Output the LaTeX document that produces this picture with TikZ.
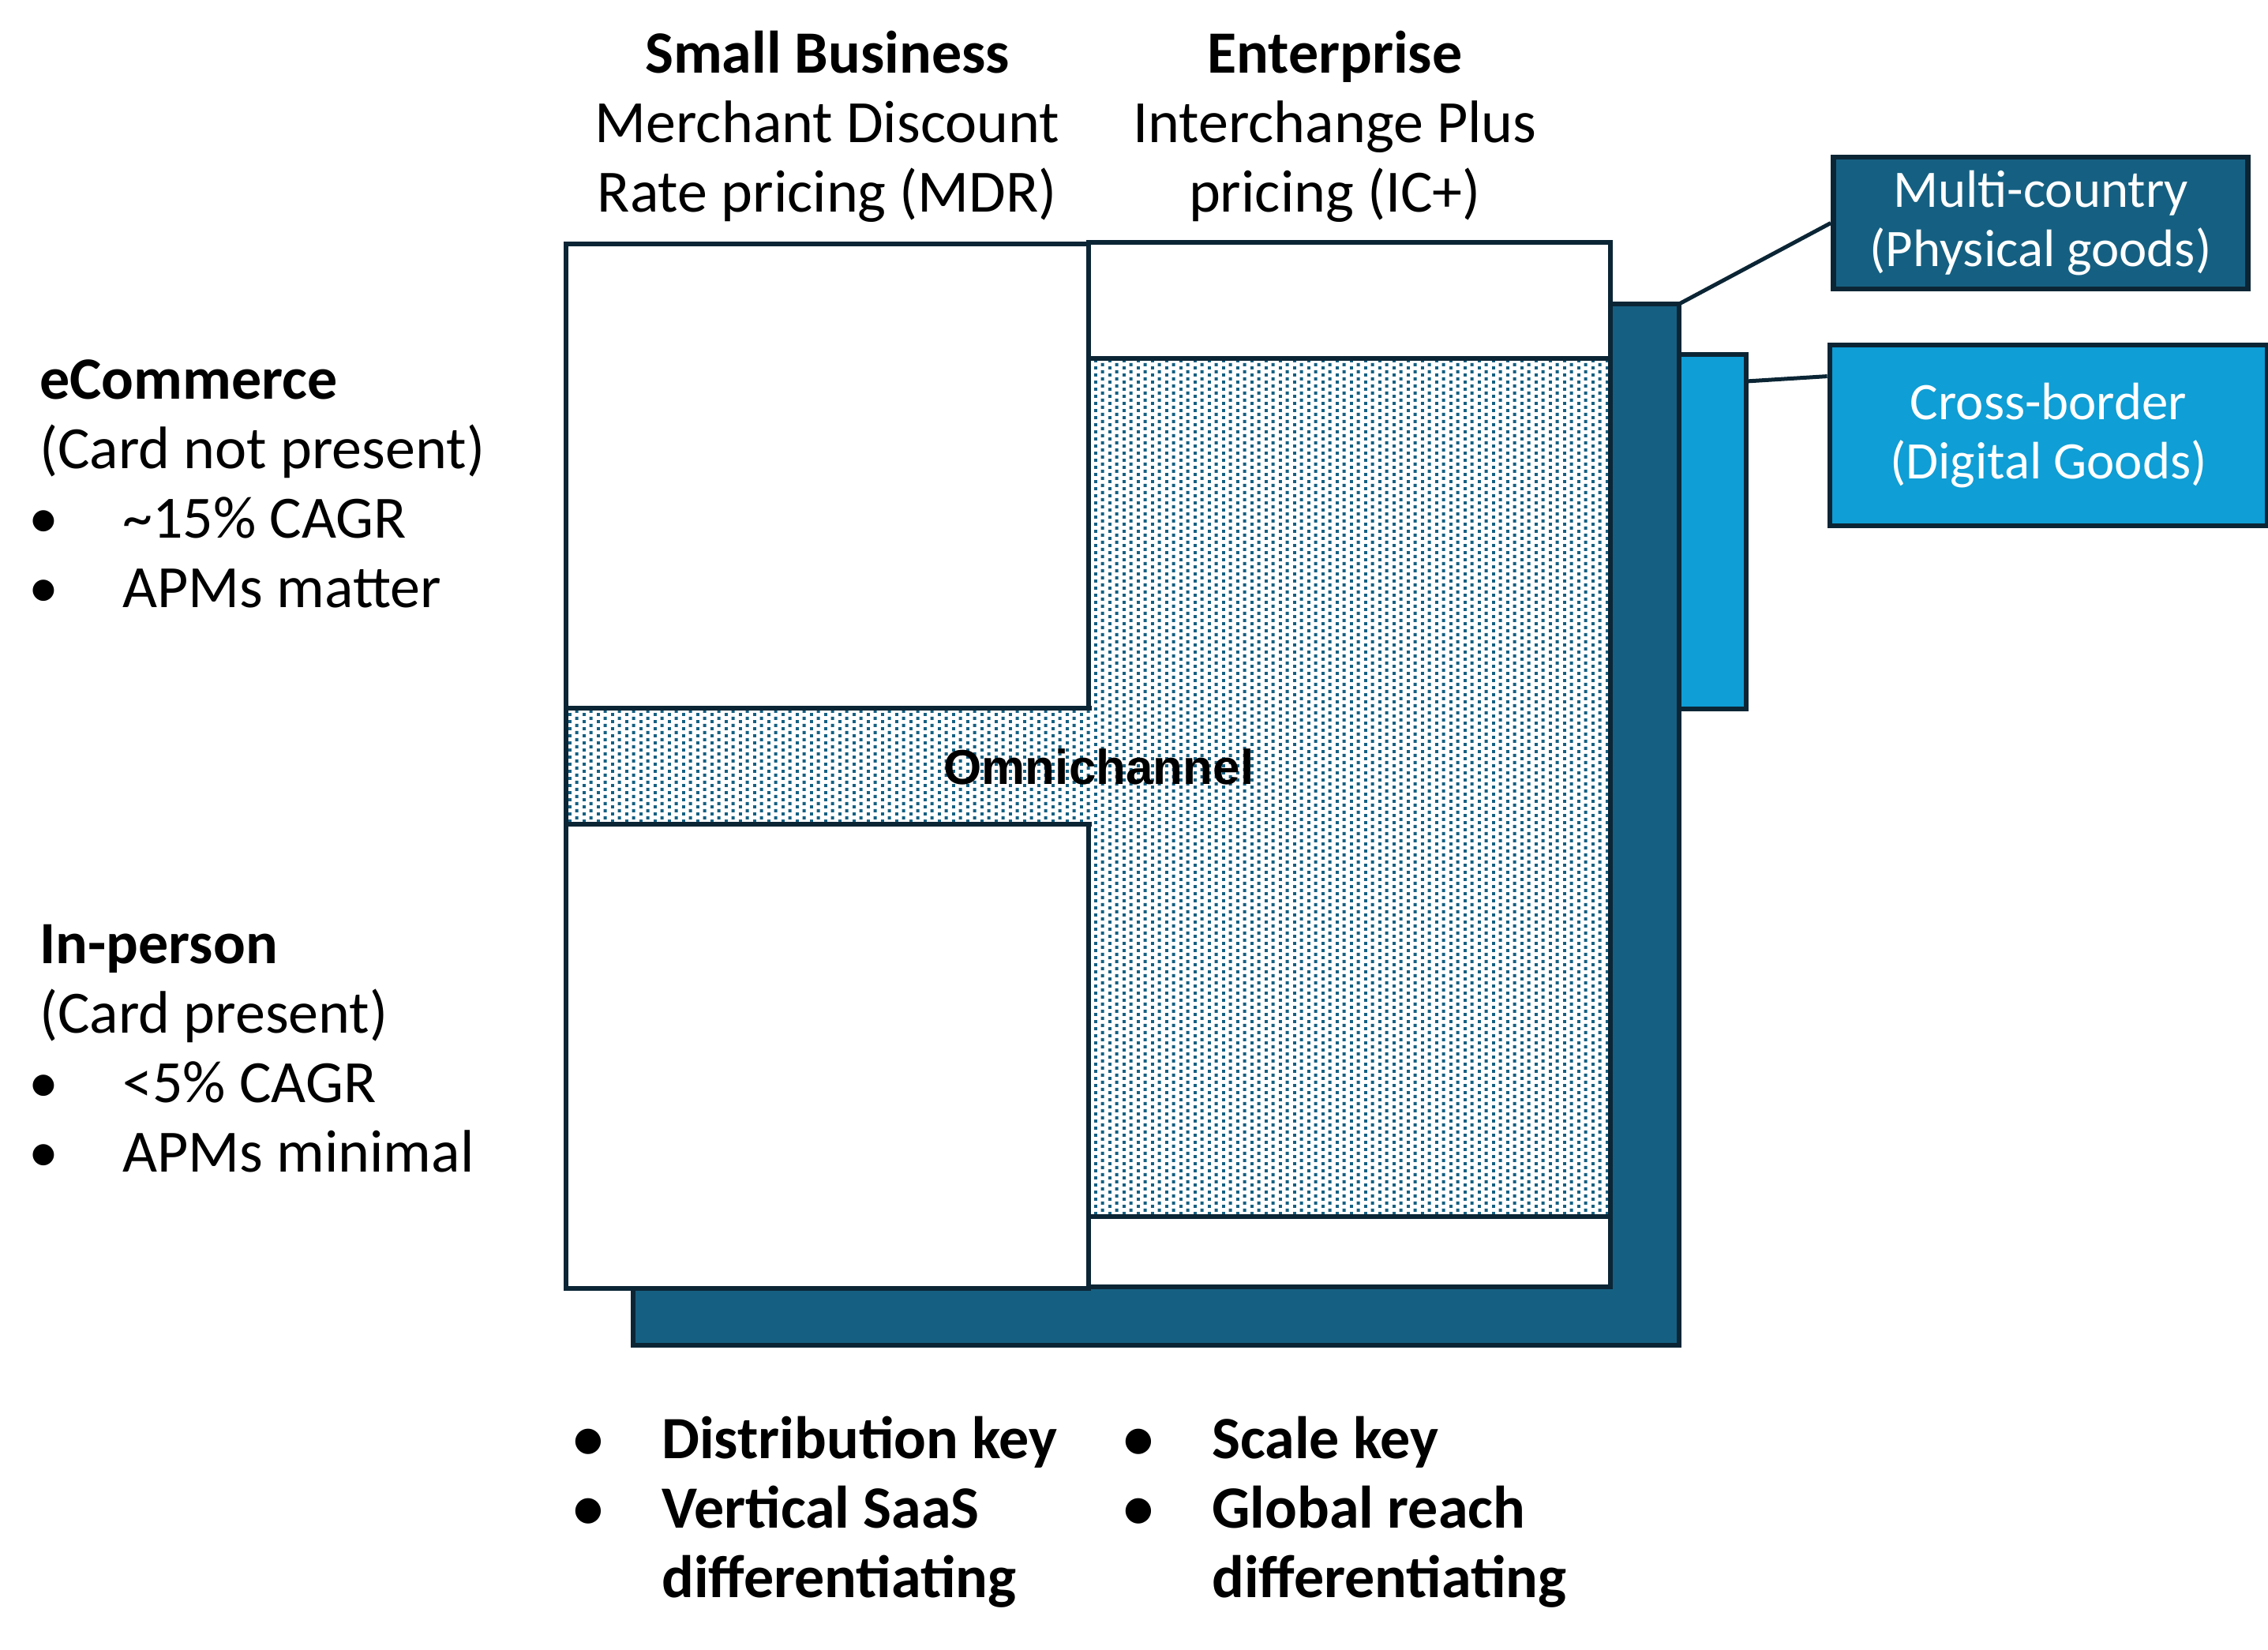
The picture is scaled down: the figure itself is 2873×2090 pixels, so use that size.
\documentclass[tikz,border=0pt]{standalone}
\usepackage{fontspec}
\setmainfont{Carlito}
\newfontfamily\omnifont{Liberation Sans}
\usetikzlibrary{fit,patterns,calc}

\definecolor{navyline}{HTML}{0B2535}
\definecolor{tealfill}{HTML}{156082}
\definecolor{skyfill}{HTML}{0F9ED5}

\newcommand{\bigtext}{\fontsize{19}{22}\selectfont}
\newcommand{\boxtext}{\fontsize{16.7}{18.75}\selectfont}
\newcommand{\bul}{\hspace*{-3.5pt}\textbullet}

% sparse square dots, staggered
\pgfdeclarepatternformonly{sparse dots}{\pgfpointorigin}{\pgfqpoint{4.5pt}{2.3pt}}{\pgfqpoint{4.5pt}{2.3pt}}{
	\pgfpathrectangle{\pgfpointorigin}{\pgfqpoint{1.05pt}{1.05pt}}
	\pgfpathrectangle{\pgfqpoint{2.25pt}{1.15pt}}{\pgfqpoint{1.05pt}{1.05pt}}
	\pgfusepath{fill}}

\tikzset{every picture/.style={line width=1.7pt},
	panel/.style={draw=navyline, fill=white, inner sep=0pt, outer sep=0pt},
	dotpanel/.style={panel, preaction={fill=white}, pattern=sparse dots, pattern color=tealfill},
	tagbox/.style={draw=navyline, text=white, inner sep=0pt, align=center, font=\boxtext},
	link/.style={draw=navyline, line width=1.25pt}}

\begin{document}
\begin{tikzpicture}[x=0.25pt,y=0.25pt,yscale=-1,xscale=1]
			\useasboundingbox (0,0) rectangle (2873,2090);
			%Shape: Rectangle (shadow behind the grid)
			\node[panel, fill=tealfill, fit={(802,385) (2127,1704)}] (shadow) {};
			%Shape: Rectangle (cross-border bar)
			\node[panel, fill=skyfill, fit={(2127,449) (2212,898)}] (bar) {};
			%Shape: Rectangle (enterprise column)
			\node[panel, fit={(1379,307) (2040,1630)}] (ent) {};
			\node[dotpanel, fit={(1379,454) (2040,1541)}] (entdots) {};
			%Shape: Rectangle (small business, eCommerce / in-person)
			\node[panel, fit={(717,309) (1379,897)}] (sbtop) {};
			\node[panel, fit={(717,1044) (1379,1632)}] (sbbot) {};
			%Shape: Rectangle (omnichannel strip)
			\node[dotpanel, draw=none, fit={(717,897) (1383,1044)}] (omni) {};
			\draw[navyline] (omni.north east) -- (omni.north west) -- (omni.south west) -- (omni.south east);

			% Text Node
			\node[font=\omnifont\fontsize{15.5}{18}\selectfont\bfseries] (omnilbl) at (1392,971) {Omnichannel};

			%Shape: Rectangle (tags)
			\node[tagbox, fill=tealfill, minimum width=131.25pt, minimum height=41.75pt] (multi) at (2585,282.5) {Multi-country\\(Physical goods)};
			\node[tagbox, fill=skyfill, minimum width=138.5pt, minimum height=57.25pt] (cross) at (2595,551.5) {Cross-border\\(Digital Goods)};
			%Straight Lines
			\draw[link] (shadow.north east) -- (multi.west);
			\draw[link] ($(bar.north east)+(0,34)$) -- ($(cross.north west)+(0,43)$);

			% Text Node
			\node[anchor=base, font=\bigtext, inner sep=0pt] (sbhead) at (1048,92) {\begin{tabular}[t]{@{}c@{}}
					\textbf{Small Business}\\
					Merchant Discount\\
					Rate pricing (MDR)
				\end{tabular}};
			% Text Node
			\node[anchor=base, font=\bigtext, inner sep=0pt] (enthead) at (1691,92) {\begin{tabular}[t]{@{}c@{}}
					\textbf{Enterprise}\\
					Interchange Plus\\
					pricing (IC+)
				\end{tabular}};
			% Text Node
			\node[anchor=base west, font=\bigtext, inner sep=0pt] (ecom) at (47,505) {\begin{tabular}[t]{@{}p{26.25pt}@{}l@{}}
					\multicolumn{2}{@{}l@{}}{\textbf{eCommerce}}\\
					\multicolumn{2}{@{}l@{}}{(Card not present)}\\
					\bul & \textasciitilde15\% CAGR\\
					\bul & APMs matter
				\end{tabular}};
			% Text Node
			\node[anchor=base west, font=\bigtext, inner sep=0pt] (inperson) at (47,1220) {\begin{tabular}[t]{@{}p{26.25pt}@{}l@{}}
					\multicolumn{2}{@{}l@{}}{\textbf{In-person}}\\
					\multicolumn{2}{@{}l@{}}{(Card present)}\\
					\bul & <5\% CAGR\\
					\bul & APMs minimal
				\end{tabular}};
			% Text Node
			\node[anchor=base west, font=\bigtext\bfseries, inner sep=0pt] (sbkeys) at (737,1847) {\begin{tabular}[t]{@{}p{24.5pt}@{}l@{}}
					\bul & Distribution key\\
					\bul & Vertical SaaS\\
					& differentiating
				\end{tabular}};
			% Text Node
			\node[anchor=base west, font=\bigtext\bfseries, inner sep=0pt] (entkeys) at (1434,1847) {\begin{tabular}[t]{@{}p{24.5pt}@{}l@{}}
					\bul & Scale key\\
					\bul & Global reach\\
					& differentiating
				\end{tabular}};
\end{tikzpicture}
\end{document}
